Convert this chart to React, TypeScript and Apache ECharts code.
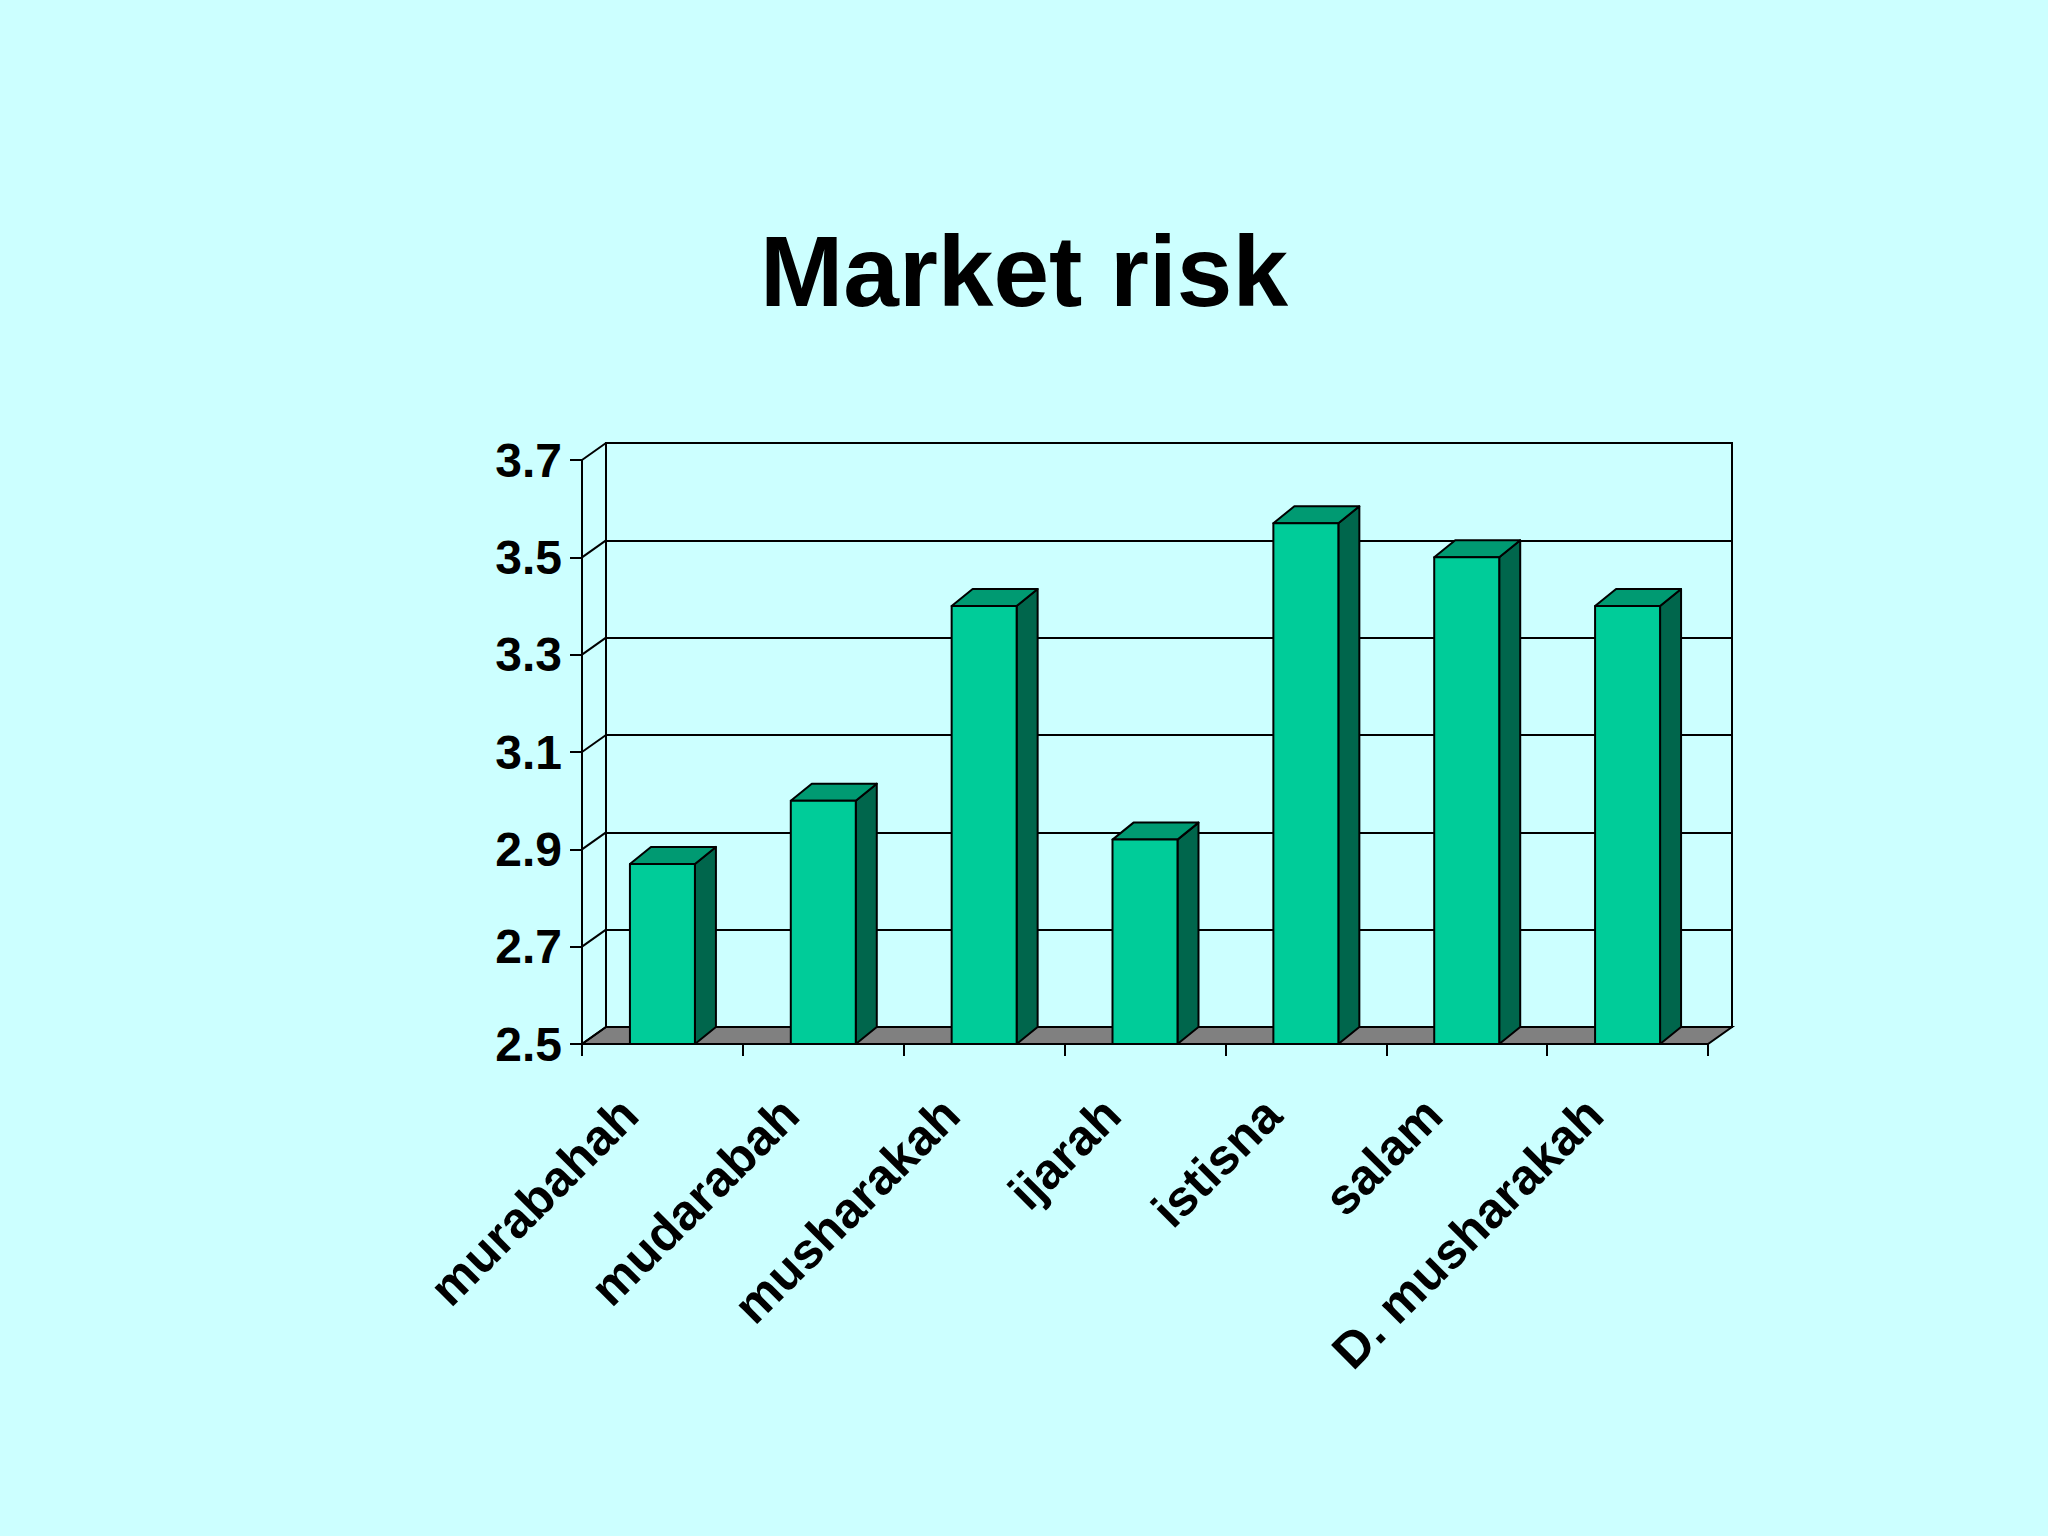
import { useEffect, useRef } from "react";
import * as echarts from "echarts";

const categories = [
  "murabahah",
  "mudarabah",
  "musharakah",
  "ijarah",
  "istisna",
  "salam",
  "D. musharakah",
];
const riskValues = [2.87, 3.0, 3.4, 2.92, 3.57, 3.5, 3.4];
const yTicks = [2.5, 2.7, 2.9, 3.1, 3.3, 3.5, 3.7];

const Y_MIN = 2.5;
const Y_MAX = 3.7;
const Y_STEP = 0.2;

// oblique depth of the walls and of the columns
const DX = 24;
const DY = -17;
const BDX = 21;
const BDY = -17;

const font = "'Liberation Sans', Arial, sans-serif";
const front = "#00cc99";
const topFace = "#009a72";
const side = "#00664c";

export default function App() {
  const chartRef = useRef<HTMLDivElement>(null);

  useEffect(() => {
    if (!chartRef.current) return;
    const chart = echarts.init(chartRef.current, undefined, { renderer: "svg" });

    const renderFrame = (params: any, api: any) => {
      const cs = params.coordSys;
      const L = cs.x;
      const R = cs.x + cs.width;
      const B = cs.y + cs.height;
      const children: any[] = [
        {
          type: "polygon",
          shape: { points: [[L, B], [R, B], [R + DX, B + DY], [L + DX, B + DY]] },
          style: { fill: "#808080", stroke: "#000", lineWidth: 2 },
        },
      ];
      yTicks.forEach((v) => {
        const y = api.coord([0, v])[1];
        children.push({
          type: "line",
          shape: { x1: L, y1: y, x2: L + DX, y2: y + DY },
          style: { stroke: "#000", lineWidth: 2 },
        });
      });
      return { type: "group", children };
    };

    const renderBar = (_params: any, api: any) => {
      const i = api.value(0);
      const v = api.value(1);
      const [cx, top] = api.coord([i, v]);
      const bottom = api.coord([i, Y_MIN])[1];
      const w = api.size([1, 0])[0] * 0.404;
      const x0 = cx - w / 2;
      const x1 = cx + w / 2;
      const st = { stroke: "#000", lineWidth: 2, lineJoin: "round" };
      return {
        type: "group",
        children: [
          {
            type: "polygon",
            shape: { points: [[x1, top], [x1 + BDX, top + BDY], [x1 + BDX, bottom + BDY], [x1, bottom]] },
            style: { fill: side, ...st },
          },
          {
            type: "polygon",
            shape: { points: [[x0, top], [x0 + BDX, top + BDY], [x1 + BDX, top + BDY], [x1, top]] },
            style: { fill: topFace, ...st },
          },
          {
            type: "rect",
            shape: { x: x0, y: top, width: w, height: bottom - top },
            style: { fill: front, ...st },
          },
        ],
      };
    };

    const option: any = {
      animation: false,
      backgroundColor: "#ccffff",
      title: {
        text: "Market risk",
        left: "center",
        top: 216,
        textStyle: { fontFamily: font, fontSize: 100, fontWeight: "bold", color: "#000" },
      },
      grid: [
        { left: 582, top: 460, width: 1126, height: 584, show: false },
        {
          left: 606,
          top: 443,
          width: 1126,
          height: 584,
          show: true,
          borderColor: "#000",
          borderWidth: 2,
          backgroundColor: "transparent",
        },
      ],
      xAxis: [
        {
          type: "category",
          gridIndex: 0,
          data: categories,
          axisLine: { show: true, lineStyle: { color: "#000", width: 2 } },
          axisTick: { show: true, length: 12, interval: 0, lineStyle: { color: "#000", width: 2 } },
          axisLabel: {
            interval: 0,
            rotate: 45,
            margin: 29,
            padding: [0, 47, 0, 0],
            fontFamily: font,
            fontSize: 50,
            fontWeight: "bold",
            color: "#000",
          },
          splitLine: { show: false },
        },
        { type: "category", gridIndex: 1, data: categories, show: false },
      ],
      yAxis: [
        {
          type: "value",
          gridIndex: 0,
          min: Y_MIN,
          max: Y_MAX,
          interval: Y_STEP,
          axisLine: { show: true, lineStyle: { color: "#000", width: 2 } },
          axisTick: { show: true, length: 12, lineStyle: { color: "#000", width: 2 } },
          axisLabel: {
            margin: 20,
            fontFamily: font,
            fontSize: 48,
            fontWeight: "bold",
            color: "#000",
            formatter: (v: number) => v.toFixed(1),
          },
          splitLine: { show: false },
        },
        {
          type: "value",
          gridIndex: 1,
          min: Y_MIN,
          max: Y_MAX,
          interval: Y_STEP,
          axisLine: { show: false },
          axisTick: { show: false },
          axisLabel: { show: false },
          splitLine: { show: true, lineStyle: { color: "#000", width: 2 } },
        },
      ],
      series: [
        {
          type: "custom",
          xAxisIndex: 0,
          yAxisIndex: 0,
          z: 1,
          silent: true,
          renderItem: renderFrame,
          data: [[0, Y_MIN]],
          clip: false,
        },
        {
          name: "Market risk",
          type: "custom",
          xAxisIndex: 0,
          yAxisIndex: 0,
          z: 3,
          renderItem: renderBar,
          encode: { x: 0, y: 1 },
          data: riskValues.map((v, i) => [i, v]),
          clip: false,
        },
      ],
    };

    chart.setOption(option);
    return () => chart.dispose();
  }, []);

  return (
    <div
      ref={chartRef}
      style={{ position: "absolute", left: 0, top: 0, width: 2048, height: 1536 }}
    />
  );
}
